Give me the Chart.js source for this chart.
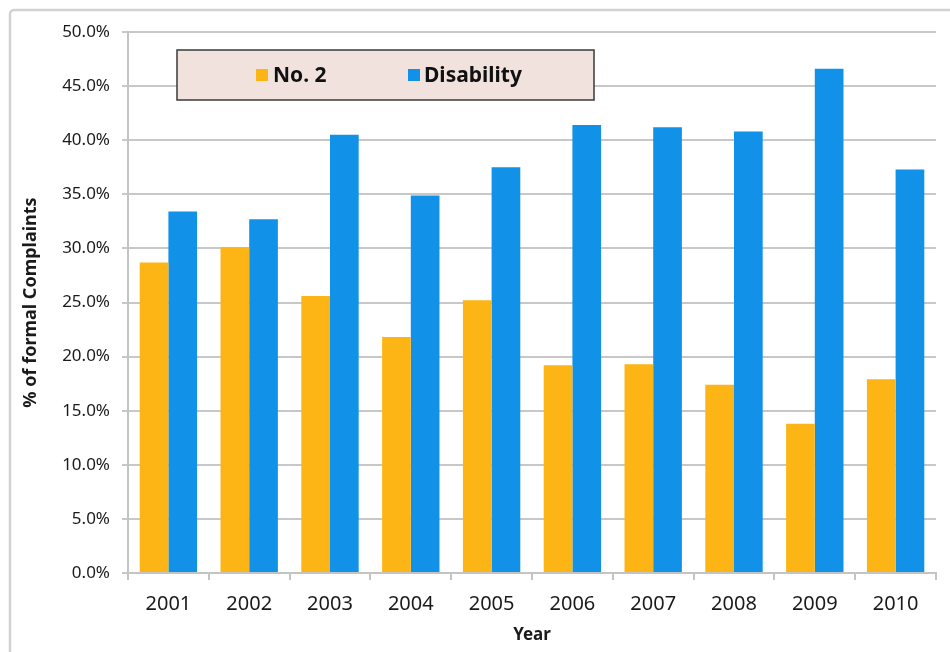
<!DOCTYPE html>
<html>
<head>
<meta charset="utf-8">
<script src="https://cdn.jsdelivr.net/npm/chart.js@4/dist/chart.umd.min.js"></script>
<style>
html,body{margin:0;padding:0;background:#fff;}
#wrap{width:950px;height:652px;position:relative;}
</style>
</head>
<body>
<div id="wrap"><canvas id="c" width="950" height="652"></canvas></div>
<script>
const years = ['2001','2002','2003','2004','2005','2006','2007','2008','2009','2010'];
const no2Values = [28.7, 30.1, 25.6, 21.8, 25.2, 19.2, 19.3, 17.4, 13.8, 17.9];
const disabilityValues = [33.4, 32.7, 40.5, 34.9, 37.5, 41.4, 41.2, 40.8, 46.6, 37.3];
const seriesNames = ['No. 2', 'Disability'];
const seriesColors = ['#FDB515', '#1192E8'];

const FONT = "'Noto Sans', 'DejaVu Sans', sans-serif";

const framePlugin = {
  id: 'frame',
  beforeDraw(chart) {
    const ctx = chart.ctx;
    ctx.save();
    ctx.fillStyle = '#fff';
    ctx.fillRect(0, 0, chart.width, chart.height);
    ctx.strokeStyle = '#d2d2d2';
    ctx.lineWidth = 2.5;
    ctx.beginPath();
    ctx.roundRect(10, 10, 960, 660, 4);
    ctx.stroke();
    ctx.restore();
  }
};

const legendBoxPlugin = {
  id: 'legendBox',
  afterDraw(chart) {
    const ctx = chart.ctx;
    const x0 = 177, y0 = 50, w = 417, h = 50;
    ctx.save();
    ctx.fillStyle = '#F2E2DE';
    ctx.fillRect(x0, y0, w, h);
    ctx.strokeStyle = '#3a3a3a';
    ctx.lineWidth = 1.5;
    ctx.strokeRect(x0, y0, w, h);
    const items = [{sx: 256, tx: 273}, {sx: 408, tx: 424}];
    ctx.font = 'bold 21px ' + FONT;
    ctx.textBaseline = 'middle';
    ctx.textAlign = 'left';
    chart.data.datasets.forEach((ds, i) => {
      ctx.fillStyle = ds.backgroundColor;
      ctx.fillRect(items[i].sx, 69, 12, 12);
      ctx.fillStyle = '#111';
      ctx.fillText(ds.label, items[i].tx, 76);
    });
    ctx.restore();
  }
};

new Chart(document.getElementById('c'), {
  type: 'bar',
  data: {
    labels: years,
    datasets: [
      {label: seriesNames[0], data: no2Values, backgroundColor: seriesColors[0], borderWidth: 0},
      {label: seriesNames[1], data: disabilityValues, backgroundColor: seriesColors[1], borderWidth: 0}
    ]
  },
  options: {
    responsive: false,
    animation: false,
    devicePixelRatio: 1,
    layout: {padding: {left: 0, right: 14, top: 32, bottom: 0}},
    datasets: {bar: {categoryPercentage: 0.71, barPercentage: 1.0}},
    plugins: {
      legend: {display: false},
      tooltip: {enabled: false}
    },
    scales: {
      x: {
        afterFit(s) { s.height = 79; },
        grid: {display: true, drawOnChartArea: false, drawTicks: true, tickLength: 7, color: '#c4c4c4', lineWidth: 2, offset: true},
        border: {display: true, color: '#c4c4c4', width: 2},
        ticks: {font: {family: FONT, size: 20}, color: '#1a1a1a', padding: 12, maxRotation: 0},
        title: {display: true, text: 'Year', font: {family: FONT, size: 17, weight: 'bold'}, color: '#1a1a1a', padding: {top: 0, bottom: 7}}
      },
      y: {
        afterFit(s) { s.width = 128; },
        min: 0,
        max: 50,
        ticks: {stepSize: 5, font: {family: FONT, size: 17}, color: '#1a1a1a', padding: 12,
          callback: v => v.toFixed(1) + '%'},
        grid: {color: '#c8c8c8', lineWidth: 2, tickLength: 6, drawTicks: true},
        border: {display: true, color: '#c4c4c4', width: 2},
        title: {display: true, text: '% of formal Complaints', font: {family: FONT, size: 18, weight: 'bold'}, color: '#1a1a1a', padding: {top: 20, bottom: 0}}
      }
    }
  },
  plugins: [framePlugin, legendBoxPlugin]
});
</script>
</body>
</html>
